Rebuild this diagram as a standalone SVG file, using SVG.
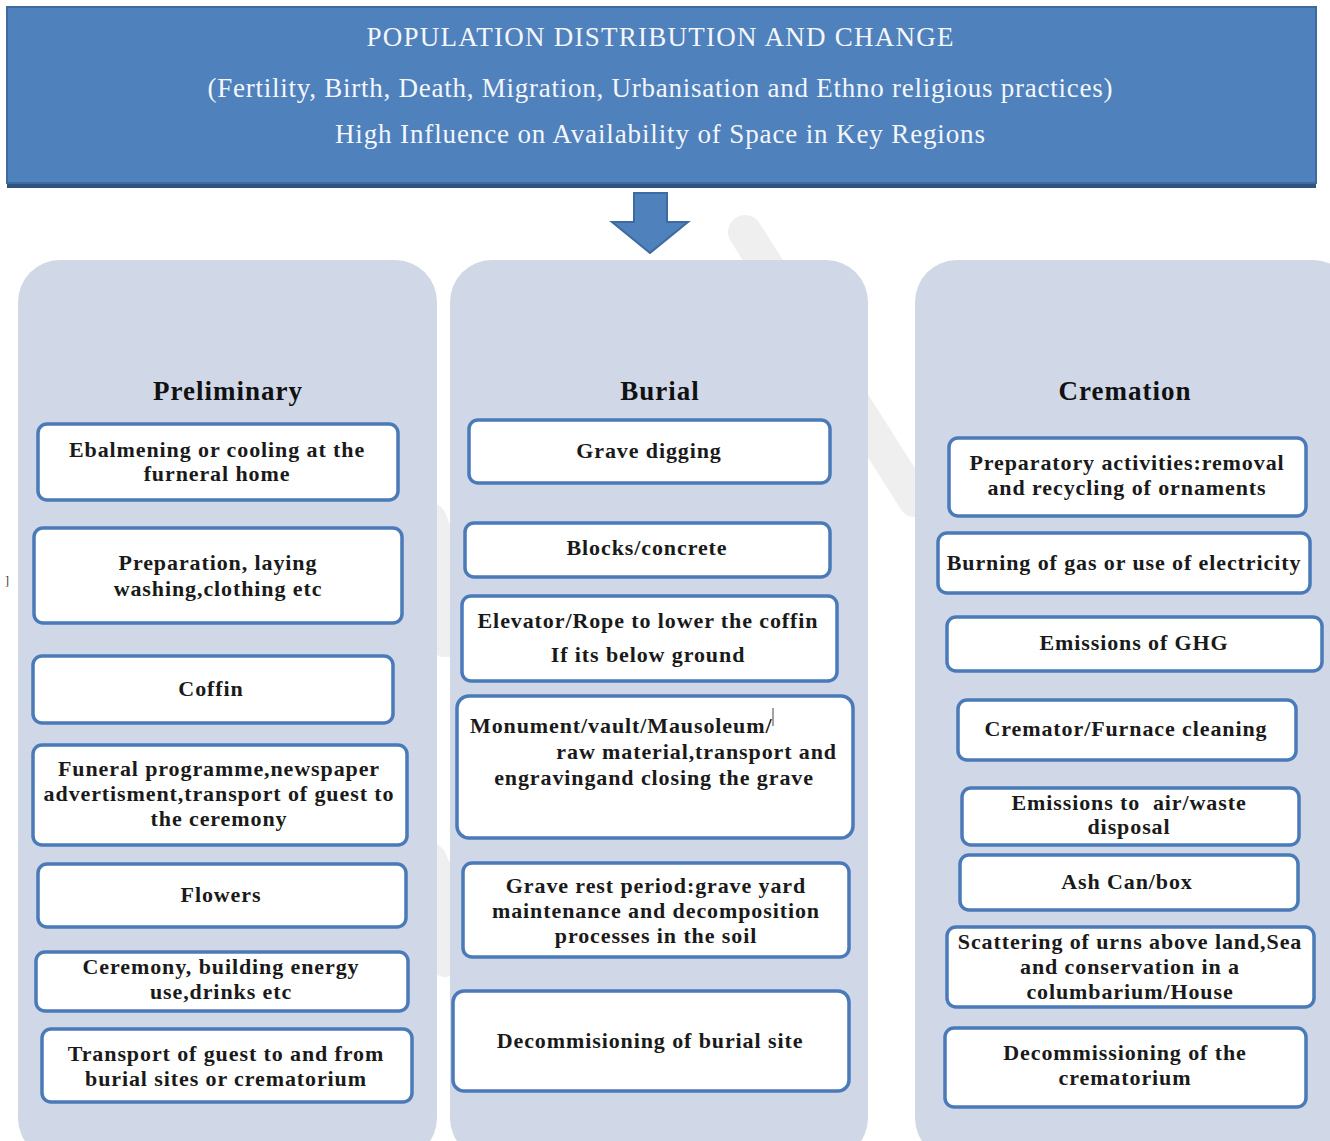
<svg xmlns="http://www.w3.org/2000/svg" width="1330" height="1141" viewBox="0 0 1330 1141">
<style>
.hdr{font-family:"Liberation Serif",serif;font-size:27px;fill:#f4f6fa;text-anchor:middle}
.ttl{font-family:"Liberation Serif",serif;font-size:27px;font-weight:bold;fill:#111;text-anchor:middle;letter-spacing:1px}
.panel{fill:#d0d8e8}
.box{fill:#ffffff;stroke:#4a7ab8;stroke-width:3.5}
.t{font-family:"Liberation Serif",serif;font-size:22px;font-weight:bold;fill:#1a1a1a;text-anchor:middle;letter-spacing:0.9px}
.ts{text-anchor:start}
.te{text-anchor:end}
</style>
<rect width="1330" height="1141" fill="#ffffff"/>
<g id="watermark" stroke="#efefef" stroke-width="34" stroke-linecap="round" fill="none">
<line x1="745" y1="232" x2="915" y2="500"/>
<path d="M430 520 Q450 570 445 640"/>
<path d="M430 860 Q450 900 445 960"/>
</g>
<g id="header">
<rect x="7" y="10" width="1309" height="178" fill="#2f5480"/>
<rect x="7" y="7" width="1309" height="176" fill="#4f81bd" stroke="#3d6aa0" stroke-width="2"/>
<text class="hdr" x="660" y="46" textLength="587" lengthAdjust="spacing">POPULATION DISTRIBUTION AND CHANGE</text>
<text class="hdr" x="660" y="97" textLength="905" lengthAdjust="spacing">(Fertility, Birth, Death, Migration, Urbanisation and Ethno religious practices)</text>
<text class="hdr" x="660" y="143" textLength="650" lengthAdjust="spacing">High Influence on Availability of Space in Key Regions</text>
</g>
<g id="connectors">
<path d="M634 193 H667 V222 H688 L650 253 L612 222 H634 Z" fill="#4f81bd" stroke="#3d6aa0" stroke-width="2"/>
</g>
<text x="5" y="585" font-family="Liberation Serif,serif" font-size="12" fill="#333">]</text>
<g id="panel-preliminary">
<rect class="panel" x="18" y="260" width="419" height="900" rx="42"/>
<text class="ttl" x="228" y="400">Preliminary</text>
</g>
<g id="panel-burial">
<rect class="panel" x="450" y="260" width="418" height="900" rx="42"/>
<text class="ttl" x="660" y="400">Burial</text>
</g>
<g id="panel-cremation">
<rect class="panel" x="915" y="260" width="440" height="900" rx="42"/>
<text class="ttl" x="1125" y="400">Cremation</text>
</g>
<g id="p1"><rect class="box" x="38" y="424" width="360" height="76" rx="9"/><text class="t" x="217" y="457">Ebalmening or cooling at the</text><text class="t" x="217" y="481">furneral home</text></g>
<g id="p2"><rect class="box" x="34" y="528" width="368" height="95" rx="9"/><text class="t" x="218" y="570">Preparation, laying</text><text class="t" x="218" y="596">washing,clothing etc</text></g>
<g id="p3"><rect class="box" x="33" y="656" width="360" height="67" rx="9"/><text class="t" x="211" y="696">Coffin</text></g>
<g id="p4"><rect class="box" x="33" y="745" width="374" height="100" rx="9"/><text class="t" x="219" y="776">Funeral programme,newspaper</text><text class="t" x="219" y="801">advertisment,transport of guest to</text><text class="t" x="219" y="826">the ceremony</text></g>
<g id="p5"><rect class="box" x="38" y="864" width="368" height="63" rx="9"/><text class="t" x="221" y="902">Flowers</text></g>
<g id="p6"><rect class="box" x="36" y="952" width="372" height="59" rx="9"/><text class="t" x="221" y="974">Ceremony, building energy</text><text class="t" x="221" y="999">use,drinks etc</text></g>
<g id="p7"><rect class="box" x="42" y="1029" width="370" height="73" rx="9"/><text class="t" x="226" y="1061">Transport of guest to and from</text><text class="t" x="226" y="1086">burial sites or crematorium</text></g>
<g id="b1"><rect class="box" x="469" y="420" width="361" height="63" rx="9"/><text class="t" x="649" y="458">Grave digging</text></g>
<g id="b2"><rect class="box" x="465" y="523" width="365" height="54" rx="9"/><text class="t" x="647" y="555">Blocks/concrete</text></g>
<g id="b3"><rect class="box" x="462" y="596" width="375" height="85" rx="9"/><text class="t" x="648" y="628">Elevator/Rope to lower the coffin</text><text class="t" x="648" y="662">If its below ground</text></g>
<g id="b4"><rect class="box" x="457" y="696" width="396" height="142" rx="12"/><text class="t ts" x="470" y="733">Monument/vault/Mausoleum/</text><line x1="773" y1="708" x2="773" y2="726" stroke="#444" stroke-width="1"/><text class="t te" x="837" y="759">raw material,transport and</text><text class="t" x="654" y="785">engravingand closing the grave</text></g>
<g id="b5"><rect class="box" x="463" y="863" width="386" height="94" rx="9"/><text class="t" x="656" y="893">Grave rest period:grave yard</text><text class="t" x="656" y="918">maintenance and decomposition</text><text class="t" x="656" y="943">processes in the soil</text></g>
<g id="b6"><rect class="box" x="453" y="991" width="396" height="100" rx="11"/><text class="t" x="650" y="1048">Decommisioning of burial site</text></g>
<g id="c1"><rect class="box" x="949" y="438" width="357" height="78" rx="9"/><text class="t" x="1127" y="470">Preparatory activities:removal</text><text class="t" x="1127" y="495">and recycling of ornaments</text></g>
<g id="c2"><rect class="box" x="938" y="533" width="372" height="60" rx="9"/><text class="t" x="1124" y="570">Burning of gas or use of electricity</text></g>
<g id="c3"><rect class="box" x="947" y="617" width="375" height="54" rx="9"/><text class="t" x="1134" y="650">Emissions of GHG</text></g>
<g id="c4"><rect class="box" x="958" y="700" width="338" height="60" rx="9"/><text class="t" x="1126" y="736">Cremator/Furnace cleaning</text></g>
<g id="c5"><rect class="box" x="962" y="788" width="337" height="57" rx="9"/><text class="t" x="1129" y="810" xml:space="preserve">Emissions to  air/waste</text><text class="t" x="1129" y="834">disposal</text></g>
<g id="c6"><rect class="box" x="960" y="855" width="338" height="55" rx="9"/><text class="t" x="1127" y="889">Ash Can/box</text></g>
<g id="c7"><rect class="box" x="947" y="927" width="367" height="80" rx="9"/><text class="t" x="1130" y="949">Scattering of urns above land,Sea</text><text class="t" x="1130" y="974">and conservation in a</text><text class="t" x="1130" y="999">columbarium/House</text></g>
<g id="c8"><rect class="box" x="945" y="1028" width="361" height="79" rx="9"/><text class="t" x="1125" y="1060">Decommissioning of the</text><text class="t" x="1125" y="1085">crematorium</text></g>
</svg>
